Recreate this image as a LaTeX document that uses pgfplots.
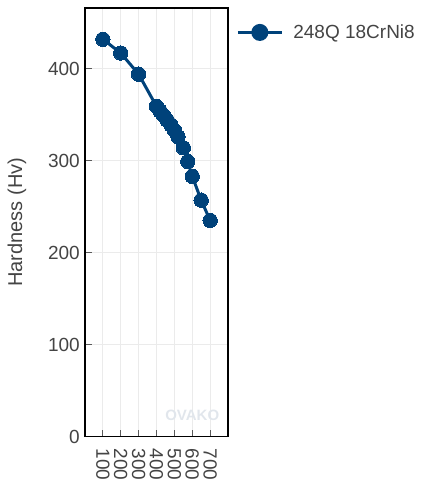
\documentclass[border=0pt]{standalone}
\usepackage{fontspec}
\setmainfont{Liberation Sans}
\usepackage{pgfplots}
\pgfplotsset{compat=1.18}

\definecolor{steelblue}{RGB}{0,66,122}
\definecolor{textgray}{RGB}{68,68,68}
\definecolor{gridgray}{RGB}{235,235,235}
\definecolor{tickgray}{RGB}{90,90,90}
\definecolor{markgray}{RGB}{225,230,236}

\begin{document}
\begin{tikzpicture}[x=1pt,y=1pt]
\path[use as bounding box] (0,0) rectangle (420,486);
\begin{axis}[
  at={(85pt,49.5pt)}, anchor=south west,
  scale only axis,
  width=143pt, height=428.5pt,
  xmin=0, xmax=800,
  ymin=0, ymax=466,
  xtick={100,200,...,700},
  ytick={0,100,...,400},
  xtick pos=bottom, ytick pos=left,
  /pgf/number format/assume math mode=true,
  /pgf/number format/1000 sep={},
  tick align=inside,
  major tick length=7pt,
  tick style={color=tickgray, line width=1pt},
  axis line style={black, line width=1.3pt},
  grid=major,
  major grid style={gridgray, line width=1pt},
  font=\fontsize{19}{22}\selectfont,
  tick label style={text=textgray, font=\fontsize{19}{22}\selectfont},
  yticklabel style={anchor=east, inner sep=0pt, xshift=-5pt},
  xticklabel style={yshift=-12pt, rotate=-90, anchor=west, inner sep=0pt},
  ylabel={Hardness (Hv)},
  ylabel style={at={(axis description cs:-0.476,0.5)}, anchor=center, text=textgray, font=\fontsize{20}{24}\selectfont},
  legend style={at={(axis description cs:1.057,0.943)}, anchor=west,
    draw=none, fill=none, inner sep=0pt, column sep=10pt,
    font=\fontsize{19}{22}\selectfont, text=textgray,
    nodes={inner sep=0pt}},
  legend cell align=left,
  legend image code/.code={
    \draw[steelblue, line width=3pt] (0pt,0pt) -- (44pt,0pt);
    \fill[steelblue] (22pt,0pt) circle (7pt);
  },
  clip=false,
]
\addplot[color=steelblue, line width=3pt, mark=*, mark size=7.2pt,
  mark options={fill=steelblue, draw=steelblue, line width=0pt}]
  coordinates {
    (100,432) (200,417) (300,394) (400,359) (420,354) (440,349)
    (460,344) (480,339) (500,333) (520,326) (550,314) (575,299)
    (600,283) (650,257) (700,235)
  };
\addlegendentry{248Q 18CrNi8}
\node[text=markgray, font=\fontsize{15}{18}\selectfont\bfseries] at (axis cs:600,23) {OVAKO};
\end{axis}
\end{tikzpicture}
\end{document}
